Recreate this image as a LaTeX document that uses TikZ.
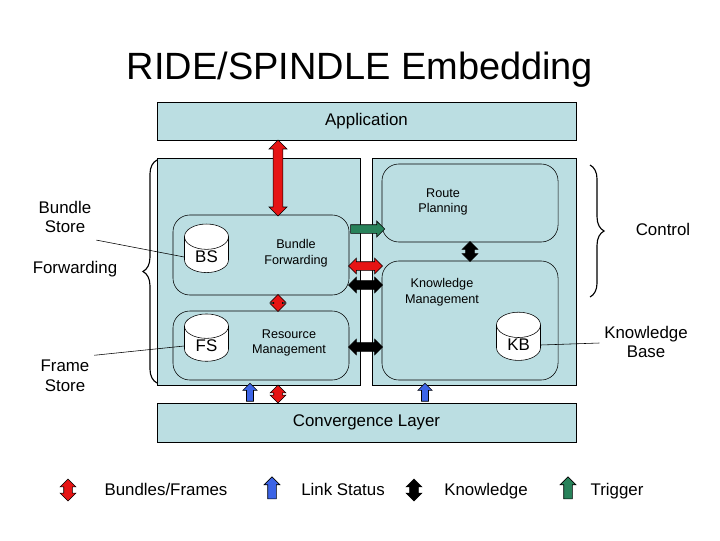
\documentclass[tikz,border=0pt]{standalone}
\usepackage{fontspec}
\setmainfont{Liberation Sans}
\usetikzlibrary{shapes.arrows,shapes.geometric,decorations.pathreplacing}

\definecolor{panel}{RGB}{187,222,226}
\definecolor{fatred}{RGB}{230,20,20}
\definecolor{fatblue}{RGB}{60,100,230}
\definecolor{fatgreen}{RGB}{40,130,90}

\tikzset{
  box/.style={draw, fill=panel, minimum width=#1, inner sep=0pt},
  part/.style={draw, fill=panel, rounded corners=12pt, inner sep=0pt},
  store/.style={cylinder, shape border rotate=90, draw, fill=white, aspect=1,
    minimum width=1.1cm, minimum height=0.85cm, inner sep=1pt, font=\large},
  both/.style={double arrow, draw, fill=#1, double arrow head extend=0.09cm,
    double arrow head indent=0cm, inner sep=0.1cm, minimum width=0.38cm},
  up/.style={single arrow, draw, fill=#1, single arrow head extend=0.09cm,
    inner sep=0.1cm, minimum width=0.38cm, rotate=90},
  lbl/.style={align=center, font=\small},
  side/.style={align=center, font=\large, text depth=0.3ex}
}

\begin{document}
\begin{tikzpicture}[x=0.025cm, y=-0.025cm]
\useasboundingbox (0,0) rectangle (720,540);

% Title
\node (title) at (360,70) {\fontsize{27}{30}\selectfont RIDE/SPINDLE Embedding};

% Outer boxes
\node[box=10.475cm, minimum height=0.95cm, font=\large] (app) at (366.5,121) {Application};
\node[box=10.475cm, minimum height=0.975cm, font=\large] (conv) at (366.5,422.5) {Convergence Layer};
\draw[fill=panel] (157,158) rectangle (360,385);
\draw[fill=panel] (372,158) rectangle (576,385);

% Inner parts
\node[part, minimum width=4.4cm, minimum height=2cm] (bf) at (261,255) {};
\node[lbl] (bft) at (296,253) {Bundle\\Forwarding};
\node[part, minimum width=4.4cm, minimum height=1.725cm] (rm) at (261,345.5) {};
\node[lbl] (rmt) at (289,343) {Resource\\Management};
\node[part, minimum width=4.4cm, minimum height=1.95cm] (rp) at (470,203) {};
\node[lbl] (rpt) at (443,202) {Route\\Planning};
\node[part, minimum width=4.4cm, minimum height=2.975cm] (km) at (470,320.5) {};
\node[lbl] (kmt) at (442,292) {Knowledge\\Management};

% Stores
\node[store] (bs) at (206.5,257) {BS};
\node[store] (fs) at (206.5,346) {FS};
\node[store] (kb) at (518.5,345) {KB};

% Fat arrows
\node[both=fatred, rotate=90, minimum height=1.9cm, minimum width=0.45cm] (a1) at (278,178) {};
\node[single arrow, draw, fill=fatgreen, single arrow head extend=0.09cm, inner sep=0.1cm,
  minimum width=0.38cm, minimum height=0.85cm] (a2) at (365.5,229) {};
\node[both=fatred, minimum height=0.85cm] (a3) at (365.5,266) {};
\node[both=black, minimum height=0.85cm] (a4) at (365.5,285) {};
\node[both=black, minimum height=0.85cm] (a5) at (365.5,347) {};
\node[both=black, rotate=90, minimum height=0.5cm] (a6) at (470,251.5) {};
\node[both=fatred, rotate=90, minimum height=0.42cm] (a7) at (278,303) {};
\node[both=fatred, rotate=90, minimum height=0.45cm] (a8) at (278,394) {};
\node[up=fatblue, minimum height=0.45cm, inner sep=0.08cm, minimum width=0.34cm] (a9) at (250,394) {};
\node[up=fatblue, minimum height=0.45cm, inner sep=0.08cm, minimum width=0.34cm] (a10) at (425,394) {};

% Braces and side labels
\draw[thick, decorate, decoration={brace, amplitude=10pt}] (157,383) -- (157,160);
\draw[thick, decorate, decoration={brace, amplitude=10pt}] (590,165) -- (590,297);
\node[side] (bst) at (65,218) {Bundle\\Store};
\node[side] (fwd) at (75,268) {Forwarding};
\node[side] (fst) at (65,377) {Frame\\Store};
\node[side] (ctl) at (663,230) {Control};
\node[side] (kbt) at (646,343) {Knowledge\\Base};
\draw (bst.south east) -- (bs.west);
\draw (fst.north east) -- (fs.west);
\draw (kb.east) -- (kbt.west);

% Legend
\node[both=fatred, rotate=90, minimum height=0.55cm] (l1) at (68,490) {};
\node[side] (l1t) at (166,490) {Bundles/Frames};
\node[up=fatblue, minimum height=0.55cm] (l2) at (272,490) {};
\node[side] (l2t) at (343,490) {Link Status};
\node[both=black, rotate=90, minimum height=0.55cm] (l3) at (414,490) {};
\node[side] (l3t) at (486,490) {Knowledge};
\node[up=fatgreen, minimum height=0.55cm] (l4) at (568,490) {};
\node[side] (l4t) at (617,490) {Trigger};
\end{tikzpicture}
\end{document}
